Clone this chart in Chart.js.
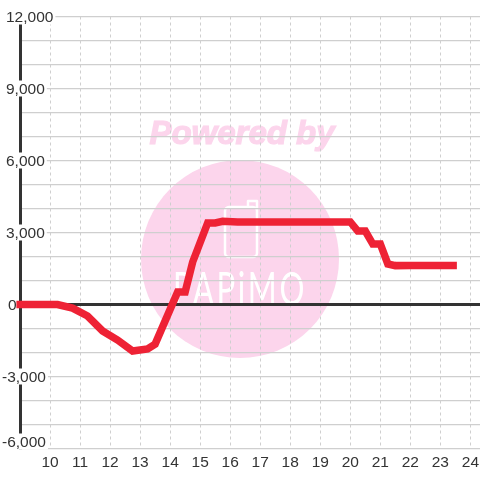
<!DOCTYPE html>
<html>
<head>
<meta charset="utf-8">
<style>
  html, body { margin: 0; padding: 0; background: #fff; }
  canvas { display: block; }
</style>
<script src="https://cdn.jsdelivr.net/npm/chart.js@4/dist/chart.umd.min.js"></script>
</head>
<body>
<canvas id="powerChart" width="480" height="480"></canvas>
<script>
const hours = [8.88, 10.25, 10.75, 11.25, 11.75, 12.25, 12.75, 13.25, 13.5, 14.25, 14.5, 14.75, 15.25, 15.5, 15.75, 16.25, 17, 18, 19, 20, 20.25, 20.5, 20.75, 21, 21.25, 21.5, 22, 23, 23.55];
const power = [0, 0, -150, -480, -1100, -1480, -1940, -1850, -1650, 520, 520, 1770, 3400, 3400, 3470, 3440, 3440, 3440, 3440, 3440, 3060, 3060, 2520, 2520, 1690, 1620, 1630, 1630, 1630];
const hourTicks = [10, 11, 12, 13, 14, 15, 16, 17, 18, 19, 20, 21, 22, 23, 24];
const powerLabels = [12000, 9000, 6000, 3000, 0, -3000, -6000];

const textColor = '#333';
const gridColor = '#cfcfcf';
const labelFont = '15.5px "Liberation Sans"';

// faint logo behind the grid
const watermark = {
  id: 'watermark',
  beforeDraw(chart) {
    const ctx = chart.ctx;
    ctx.save();
    ctx.fillStyle = '#fff';
    ctx.fillRect(0, 0, 480, 480);
    ctx.fillStyle = '#fcd5ec';
    ctx.strokeStyle = '#fcd5ec';
    ctx.beginPath();
    ctx.arc(240, 259, 99, 0, Math.PI * 2);
    ctx.fill();
    ctx.font = 'italic bold 33px "Liberation Sans"';
    ctx.textAlign = 'center';
    ctx.textBaseline = 'middle';
    ctx.lineWidth = 1.2;
    ctx.fillText('Powered by', 242, 135);
    ctx.strokeText('Powered by', 242, 135);
    // phone
    ctx.strokeStyle = '#fff';
    ctx.lineWidth = 2.5;
    ctx.lineJoin = 'round';
    ctx.beginPath();
    ctx.roundRect(225, 207, 32, 50, 4);
    ctx.moveTo(248, 207);
    ctx.lineTo(248, 201);
    ctx.lineTo(257, 201);
    ctx.lineTo(257, 230);
    ctx.stroke();
    ctx.fillStyle = '#fff';
    ctx.font = '47px Lato';
    ctx.letterSpacing = '4px';
    ctx.fillText('PAPiMO', 240, 290, 134);
    ctx.restore();
  }
};

// y labels sit on top of the axis line, with a white box behind them
const powerAxisLabels = {
  id: 'powerAxisLabels',
  beforeDatasetsDraw(chart) {
    const ctx = chart.ctx;
    const y = chart.scales.y;
    ctx.save();
    ctx.font = labelFont;
    ctx.textBaseline = 'middle';
    powerLabels.forEach(value => {
      const text = value.toLocaleString('en-US');
      const py = Math.min(y.getPixelForValue(value), y.bottom - 7);
      const left = value < 0 ? 2 : (value === 0 ? 8 : 6);
      const w = ctx.measureText(text).width;
      ctx.fillStyle = '#fff';
      ctx.fillRect(left - 1, py - 8, w + 3, 16);
      ctx.fillStyle = textColor;
      ctx.fillText(text, left, py + 1);
    });
    ctx.restore();
  }
};

new Chart(document.getElementById('powerChart'), {
  type: 'line',
  data: {
    labels: hours,
    datasets: [{
      data: hours.map((h, i) => ({ x: h, y: power[i] })),
      borderColor: '#ee2235',
      borderWidth: 7.5,
      pointRadius: 0,
      tension: 0,
      borderJoinStyle: 'miter',
      clip: false
    }]
  },
  options: {
    responsive: false,
    animation: false,
    layout: { padding: { top: 16.5, left: 0, right: 0, bottom: 0 } },
    plugins: { legend: { display: false }, tooltip: { enabled: false } },
    scales: {
      x: {
        type: 'linear',
        min: 9,
        max: 24.32,
        afterBuildTicks: scale => { scale.ticks = hourTicks.map(h => ({ value: h })); },
        afterFit: scale => { scale.height = 31.5; scale.paddingRight = 0; },
        border: { display: false, dash: [3, 3] },
        grid: { color: gridColor, lineWidth: 1, tickLength: 0 },
        ticks: {
          color: textColor,
          font: { family: 'Liberation Sans', size: 15.5 },
          padding: 5,
          maxRotation: 0,
          autoSkip: false,
          callback: v => String(v)
        }
      },
      y: {
        min: -6000,
        max: 12000,
        afterFit: scale => { scale.width = 20; },
        border: { color: textColor, width: 3 },
        grid: {
          tickLength: 0,
          color: c => c.tick.value === 0 ? textColor : gridColor,
          lineWidth: c => c.tick.value === 0 ? 3 : 1.3
        },
        ticks: { display: false, stepSize: 1000, autoSkip: false }
      }
    }
  },
  plugins: [watermark, powerAxisLabels]
});
</script>
</body>
</html>
